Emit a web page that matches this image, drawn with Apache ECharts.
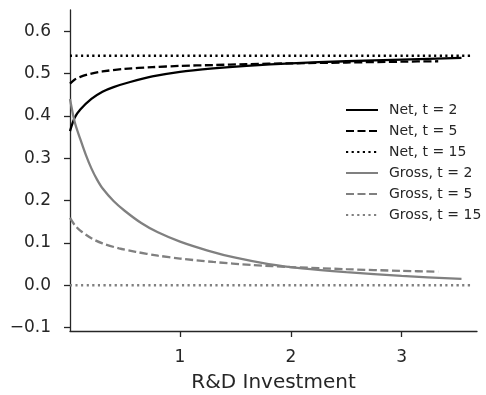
<!DOCTYPE html>
<html>
<head>
<meta charset="utf-8">
<script src="https://cdn.jsdelivr.net/npm/echarts@6/dist/echarts.min.js"></script>
<style>
  html, body { margin: 0; padding: 0; background: #fff; }
  #chart { width: 486px; height: 395px; }
</style>
</head>
<body>
<div id="chart"></div>
<script>
// Net and gross returns against R&D investment, for three horizons t
const seriesNames = ['Net, t = 2', 'Net, t = 5', 'Net, t = 15', 'Gross, t = 2', 'Gross, t = 5', 'Gross, t = 15'];

const xNet2 = [0.007, 0.05, 0.1, 0.2, 0.3, 0.4, 0.55, 0.75, 1.0, 1.3, 1.6, 2.0, 2.5, 3.0, 3.54];
const net2  = [0.364, 0.396, 0.415, 0.440, 0.457, 0.468, 0.480, 0.493, 0.504, 0.512, 0.518, 0.524, 0.529, 0.533, 0.537];

const xNet5 = [0.007, 0.05, 0.1, 0.2, 0.3, 0.5, 0.75, 1.0, 1.3, 1.6, 2.0, 2.5, 3.0, 3.33];
const net5  = [0.476, 0.486, 0.492, 0.500, 0.505, 0.511, 0.515, 0.518, 0.520, 0.522, 0.524, 0.526, 0.528, 0.529];

const xNet15 = [0.007, 3.645];
const net15  = [0.542, 0.542];

const xGross2 = [0.007, 0.05, 0.1, 0.15, 0.2, 0.25, 0.3, 0.4, 0.5, 0.65, 0.8, 1.0, 1.25, 1.5, 1.8, 2.1, 2.5, 3.0, 3.54];
const gross2  = [0.44, 0.385, 0.345, 0.308, 0.276, 0.250, 0.229, 0.199, 0.176, 0.147, 0.125, 0.103, 0.082, 0.065, 0.050, 0.040, 0.031, 0.022, 0.015];

const xGross5 = [0.007, 0.05, 0.1, 0.2, 0.3, 0.45, 0.6, 0.8, 1.0, 1.3, 1.65, 2.0, 2.5, 3.0, 3.33];
const gross5  = [0.159, 0.142, 0.129, 0.111, 0.099, 0.087, 0.079, 0.070, 0.063, 0.055, 0.048, 0.043, 0.038, 0.034, 0.032];

const xGross15 = [0.007, 3.645];
const gross15  = [0.0, 0.0];

const xTicks = [1, 2, 3];
const yTicks = [-0.1, 0, 0.1, 0.2, 0.3, 0.4, 0.5, 0.6];

const FONT = 'DejaVu Sans';
const INK = '#262626';
const BLACK = '#000000';
const GREY = '#808080';
const DASH = [8, 3.5];
const DOT = [2.2, 3.4];

function pairs(xs, ys) { return xs.map((x, i) => [x, ys[i]]); }

function lineSeries(name, xs, ys, color, type) {
  return {
    name: name,
    type: 'line',
    data: pairs(xs, ys),
    showSymbol: false,
    symbol: 'none',
    smooth: 0.3,
    silent: true,
    animation: false,
    lineStyle: { color: color, width: 2.3, type: type, cap: 'butt' },
    itemStyle: { color: color }
  };
}

const chart = echarts.init(document.getElementById('chart'), null, { renderer: 'canvas' });

chart.setOption({
  backgroundColor: '#ffffff',
  animation: false,
  textStyle: { fontFamily: FONT },
  grid: { left: 70, right: 9, top: 10, bottom: 64, containLabel: false, outerBoundsMode: 'none' },
  xAxis: {
    type: 'value',
    min: 0.007,
    max: 3.68,
    name: 'R&D Investment',
    nameLocation: 'middle',
    nameGap: 42,
    nameTextStyle: { fontFamily: FONT, fontSize: 20, color: INK },
    axisLine: { show: true, onZero: false, lineStyle: { color: INK, width: 1.3 } },
    axisTick: { show: true, length: 6, lineStyle: { color: INK, width: 1.3 }, customValues: xTicks },
    axisLabel: { fontFamily: FONT, fontSize: 17, color: INK, margin: 18, customValues: xTicks },
    splitLine: { show: false }
  },
  yAxis: {
    type: 'value',
    min: -0.108,
    max: 0.65,
    axisLine: { show: true, onZero: false, lineStyle: { color: INK, width: 1.3 } },
    axisTick: { show: true, length: 6, lineStyle: { color: INK, width: 1.3 }, customValues: yTicks },
    axisLabel: {
      fontFamily: FONT, fontSize: 17, color: INK, margin: 19,
      customValues: yTicks,
      formatter: v => (v < 0 ? '\u2212' + Math.abs(v).toFixed(1) : v.toFixed(1))
    },
    splitLine: { show: false }
  },
  legend: {
    orient: 'vertical',
    left: 345,
    top: 103,
    padding: 0,
    itemWidth: 32,
    itemHeight: 14,
    itemGap: 7,
    itemStyle: { opacity: 0 },
    textStyle: { fontFamily: FONT, fontSize: 14, color: INK, padding: [0, 0, 0, 6] },
    data: seriesNames
  },
  series: [
    lineSeries(seriesNames[0], xNet2, net2, BLACK, 'solid'),
    lineSeries(seriesNames[1], xNet5, net5, BLACK, DASH),
    lineSeries(seriesNames[2], xNet15, net15, BLACK, DOT),
    lineSeries(seriesNames[3], xGross2, gross2, GREY, 'solid'),
    lineSeries(seriesNames[4], xGross5, gross5, GREY, DASH),
    lineSeries(seriesNames[5], xGross15, gross15, GREY, DOT)
  ]
});
</script>
</body>
</html>
